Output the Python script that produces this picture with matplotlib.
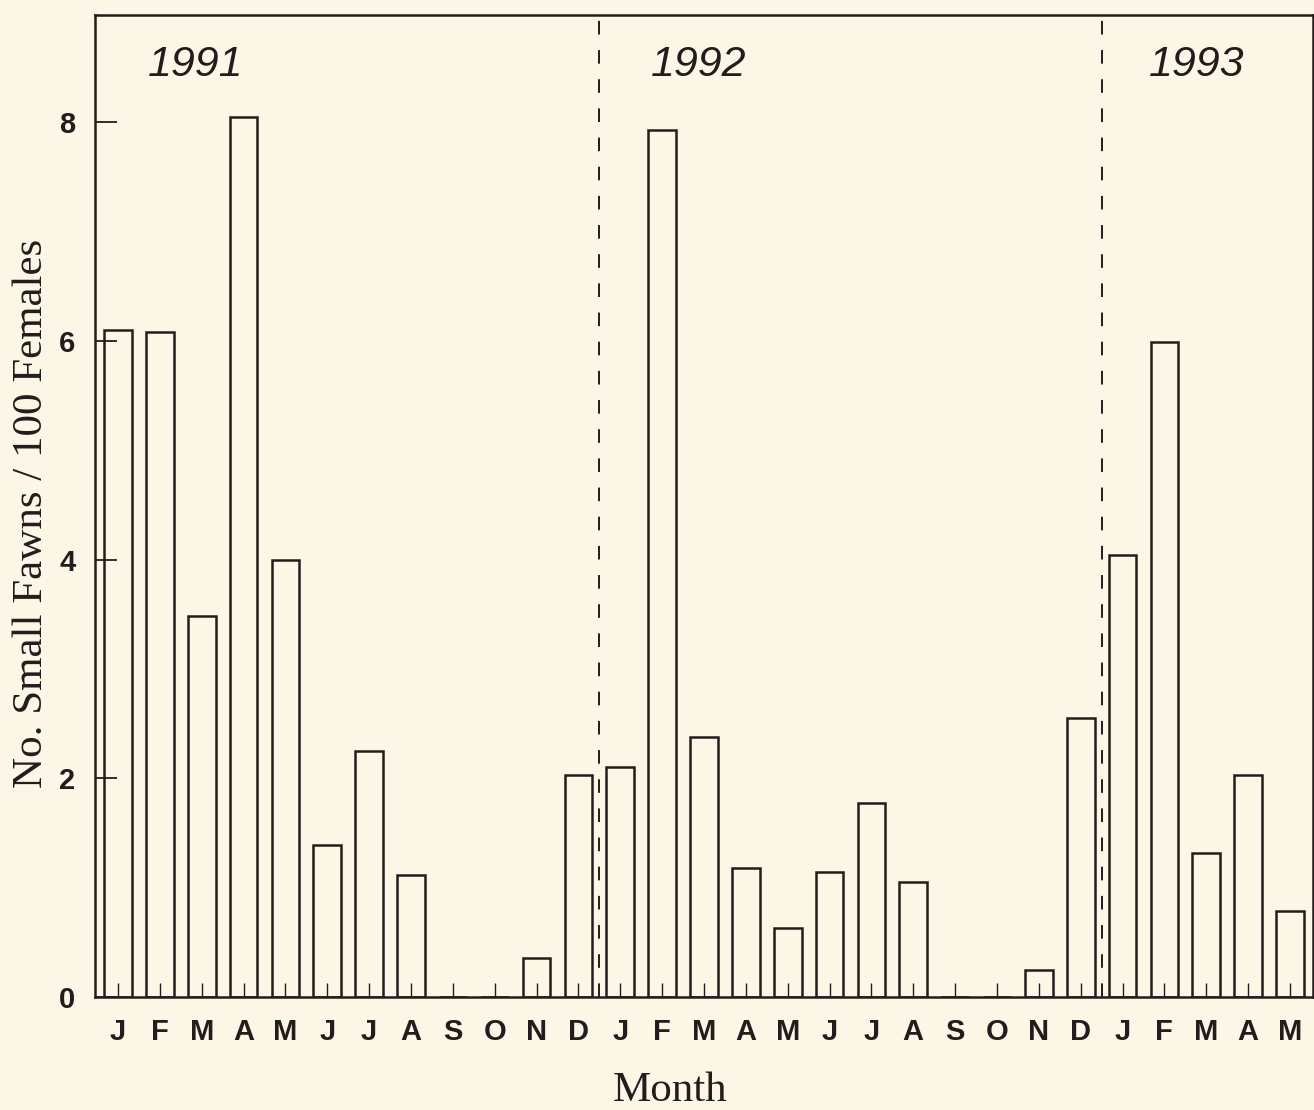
import matplotlib
matplotlib.use("Agg")
import matplotlib.pyplot as plt

months = ["J", "F", "M", "A", "M", "J", "J", "A", "S", "O", "N", "D",
          "J", "F", "M", "A", "M", "J", "J", "A", "S", "O", "N", "D",
          "J", "F", "M", "A", "M"]
fawns = [6.10, 6.08, 3.48, 8.05, 4.00, 1.39, 2.25, 1.12, 0.0, 0.0, 0.36, 2.03,
         2.10, 7.93, 2.38, 1.18, 0.63, 1.14, 1.77, 1.05, 0.0, 0.0, 0.25, 2.55,
         4.04, 5.99, 1.32, 2.03, 0.79]
years = ["1991", "1992", "1993"]
year_x = [0.72, 12.74, 24.63]
year_breaks = [11.5, 23.5]

bg = "#fbf7e6"
ink = "#241c1c"

fig = plt.figure(figsize=(13.14, 11.10), dpi=100, facecolor=bg)
ax = fig.add_axes([95 / 1314, 113 / 1110, 1218 / 1314, 982 / 1110])
ax.set_facecolor(bg)

x = list(range(len(fawns)))
ax.bar(x, fawns, width=0.66, facecolor=bg, edgecolor=ink, linewidth=1.8)

for b in year_breaks:
    ax.axvline(b, color=ink, linewidth=1.4, dashes=(7, 8))

for yr, xp in zip(years, year_x):
    ax.text(xp, 8.52, yr, fontsize=31, style="italic", family="Liberation Sans",
            color=ink, ha="left", va="center")

ax.set_xlim(-0.55, 28.55)
ax.set_ylim(0, 8.98)
ax.set_xticks(x)
ax.set_xticklabels(months, fontsize=21, fontweight="bold", family="Liberation Sans", color=ink)
ax.set_yticks([0, 2, 4, 6, 8])
ax.set_yticklabels(["0", "2", "4", "6", "8"], fontsize=21, fontweight="bold",
                   family="Liberation Sans", color=ink)
ax.tick_params(axis="x", direction="in", length=10, width=1.0, color=ink, pad=15)
ax.tick_params(axis="y", direction="in", length=16, width=1.3, color=ink, pad=14)

for s in ax.spines.values():
    s.set_linewidth(1.8)
    s.set_color(ink)

ax.set_xlabel("Month", fontsize=31, family="Liberation Serif", color=ink)
ax.xaxis.set_label_coords(0.472, -0.076)
ax.set_ylabel("No. Small Fawns / 100 Females", fontsize=31, family="Liberation Serif", color=ink)
ax.yaxis.set_label_coords(-0.036, 0.492)

fig.savefig("out.png", dpi=100, facecolor=bg)
